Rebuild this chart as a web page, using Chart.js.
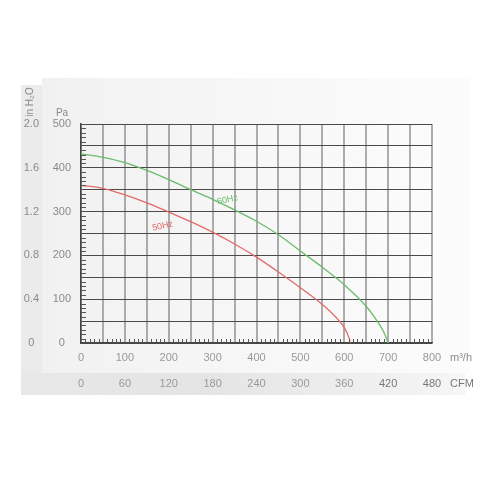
<!DOCTYPE html>
<html>
<head>
<meta charset="utf-8">
<script src="https://cdn.jsdelivr.net/npm/chart.js@4/dist/chart.umd.min.js"></script>
<style>
  html, body { margin: 0; padding: 0; background: #ffffff; }
  #wrap { position: relative; width: 500px; height: 500px; overflow: hidden; }
  .panel { position: absolute; }
  #inner { left: 42px; top: 78px; width: 428px; height: 295px; background: linear-gradient(to right, #f1f1f1, #f7f7f7 50%, #fcfcfc); }
  #stripe { left: 21px; top: 85px; width: 21px; height: 310px; background: #ebebeb; }
  #band { left: 21px; top: 373px; width: 444px; height: 22px; background: linear-gradient(to right, #e8e8e8, #e4e4e4 40%, #eeeeee 75%, #f6f6f6); }
  canvas { position: absolute; left: 0; top: 0; }
</style>
</head>
<body>
<div id="wrap">
  <div class="panel" id="inner"></div>
  <div class="panel" id="stripe"></div>
  <div class="panel" id="band"></div>
  <canvas id="chart" width="500" height="500"></canvas>
</div>
<script>
// ─── Données ────────────────────────────────────────────────────────────────
const flow60 = [0, 50, 100, 150, 200, 250, 300, 350, 400, 450, 500, 550, 600, 650, 675, 690, 700];
const pres60 = [432, 424, 412, 394, 373, 350, 328, 304, 278, 247, 210, 173, 133, 84, 50, 25, 0];

const flow50 = [0, 50, 100, 150, 200, 250, 300, 350, 400, 450, 500, 550, 580, 600, 610, 614];
const pres50 = [360, 353, 338, 320, 299, 277, 253, 226, 196, 162, 126, 88, 60, 35, 14, 0];

const seriesNames = ["60Hz", "50Hz"];
const seriesColors = ["#6cbb6c", "#e46a6a"];
// position of the curve labels (m³/h, Pa)
const labelAt = [[334, 327], [186, 267]];

const flowMax = 800, flowStep = 50;   // m³/h
const presMax = 500, presStep = 50;   // Pa
const cfmMax = 480, cfmStep = 60;     // CFM
const inH2OMax = 2.0, inH2OStep = 0.4;

const unitFlow = "m³/h", unitCfm = "CFM", unitPa = "Pa", unitInH2O = "in H₂O";

const FONT = "'Liberation Sans', Arial, sans-serif";
const TXT = "#8a8a8a";

// ─── Plugin: petites graduations + unités + étiquettes ─────────────────────
const decorations = {
  id: "decorations",
  afterDatasetsDraw(chart) {
    const { ctx, scales } = chart;
    const x = scales.x, y = scales.y;
    ctx.save();
    ctx.strokeStyle = "#555";
    ctx.lineWidth = 1;
    ctx.beginPath();
    for (let v = 0; v <= presMax; v += 10) {
      if (v % presStep === 0) continue;
      const py = Math.round(y.getPixelForValue(v)) + 0.5;
      ctx.moveTo(x.left, py);
      ctx.lineTo(x.left + 5, py);
    }
    for (let v = 0; v <= flowMax; v += 10) {
      if (v % flowStep === 0) continue;
      const px = Math.round(x.getPixelForValue(v)) + 0.5;
      ctx.moveTo(px, y.bottom);
      ctx.lineTo(px, y.bottom - 4);
    }
    ctx.stroke();

    // curve labels
    ctx.font = "9px " + FONT;
    ctx.textAlign = "center";
    ctx.textBaseline = "middle";
    labelAt.forEach(([fx, fp], i) => {
      ctx.save();
      ctx.translate(x.getPixelForValue(fx), y.getPixelForValue(fp));
      ctx.rotate(-0.22);
      ctx.fillStyle = seriesColors[i];
      ctx.fillText(seriesNames[i], 0, 0);
      ctx.restore();
    });
    ctx.restore();
  },
  afterDraw(chart) {
    const { ctx, scales } = chart;
    const x = scales.x, x2 = scales.x2, y = scales.y, y2 = scales.y2;
    ctx.save();
    ctx.fillStyle = TXT;
    ctx.font = "11px " + FONT;
    ctx.textBaseline = "middle";
    ctx.textAlign = "left";
    ctx.fillText(unitFlow, x.right + 18, x.top + x.options.ticks.padding + 7);
    ctx.fillStyle = "#777";
    ctx.fillText(unitCfm, x2.right + 18, x2.top + x2.options.ticks.padding + 7);
    ctx.fillStyle = TXT;
    ctx.font = "10px " + FONT;
    ctx.textAlign = "center";
    ctx.fillText(unitPa, y.left + 16, y.top - 11);
    ctx.translate((y2.left + y2.right) / 2 + 7, y.top - 22);
    ctx.rotate(-Math.PI / 2);
    ctx.fillText(unitInH2O, 0, 0);
    ctx.restore();
  },
};

const tickFont = { family: FONT, size: 11 };

new Chart(document.getElementById("chart"), {
  type: "scatter",
  data: {
    datasets: [
      {
        label: seriesNames[0],
        data: flow60.map((f, i) => ({ x: f, y: pres60[i] })),
        borderColor: seriesColors[0],
        showLine: true,
        borderWidth: 1.3,
        pointRadius: 0,
        cubicInterpolationMode: "monotone",
      },
      {
        label: seriesNames[1],
        data: flow50.map((f, i) => ({ x: f, y: pres50[i] })),
        borderColor: seriesColors[1],
        showLine: true,
        borderWidth: 1.3,
        pointRadius: 0,
        cubicInterpolationMode: "monotone",
      },
    ],
  },
  options: {
    responsive: false,
    animation: false,
    layout: { padding: { top: 124, right: 68, bottom: 105, left: 0 } },
    plugins: { legend: { display: false }, tooltip: { enabled: false } },
    scales: {
      x: {
        type: "linear", position: "bottom", weight: 0,
        min: 0, max: flowMax,
        afterFit: (s) => { s.height = 22; },
        grid: { color: "rgba(110,110,110,0.55)", lineWidth: 2, drawTicks: false },
        border: { color: "#444", width: 1.5 },
        ticks: {
          stepSize: flowStep, autoSkip: false, maxRotation: 0, padding: 8,
          color: "#999", font: tickFont,
          callback: (v) => (v % 100 === 0 ? String(v) : ""),
        },
      },
      x2: {
        type: "linear", position: "bottom", weight: 1,
        min: 0, max: cfmMax,
        afterFit: (s) => { s.height = 30; },
        grid: { display: false, drawTicks: false },
        border: { display: false },
        ticks: {
          stepSize: cfmStep, autoSkip: false, maxRotation: 0, padding: 12,
          color: (c) => (c.tick && c.tick.value >= 420 ? "#777" : "#999"), font: tickFont,
        },
      },
      y: {
        type: "linear", position: "left", weight: 0,
        min: 0, max: presMax,
        afterFit: (s) => { s.width = 35; },
        grid: { color: "#4a4a4a", lineWidth: 1, drawTicks: false },
        border: { color: "#444", width: 1.5 },
        ticks: {
          stepSize: presStep, autoSkip: false, padding: 10, crossAlign: "center",
          color: TXT, font: tickFont,
          callback: (v) => (v % 100 === 0 ? String(v) : ""),
        },
      },
      y2: {
        type: "linear", position: "left", weight: 1,
        min: 0, max: inH2OMax,
        afterFit: (s) => { s.width = 46; },
        grid: { display: false, drawTicks: false },
        border: { display: false },
        ticks: {
          stepSize: inH2OStep, autoSkip: false, padding: 7, crossAlign: "center",
          color: TXT, font: tickFont,
          callback: (v) => (v === 0 ? "0" : v.toFixed(1)),
        },
      },
    },
  },
  plugins: [decorations],
});
</script>
</body>
</html>
